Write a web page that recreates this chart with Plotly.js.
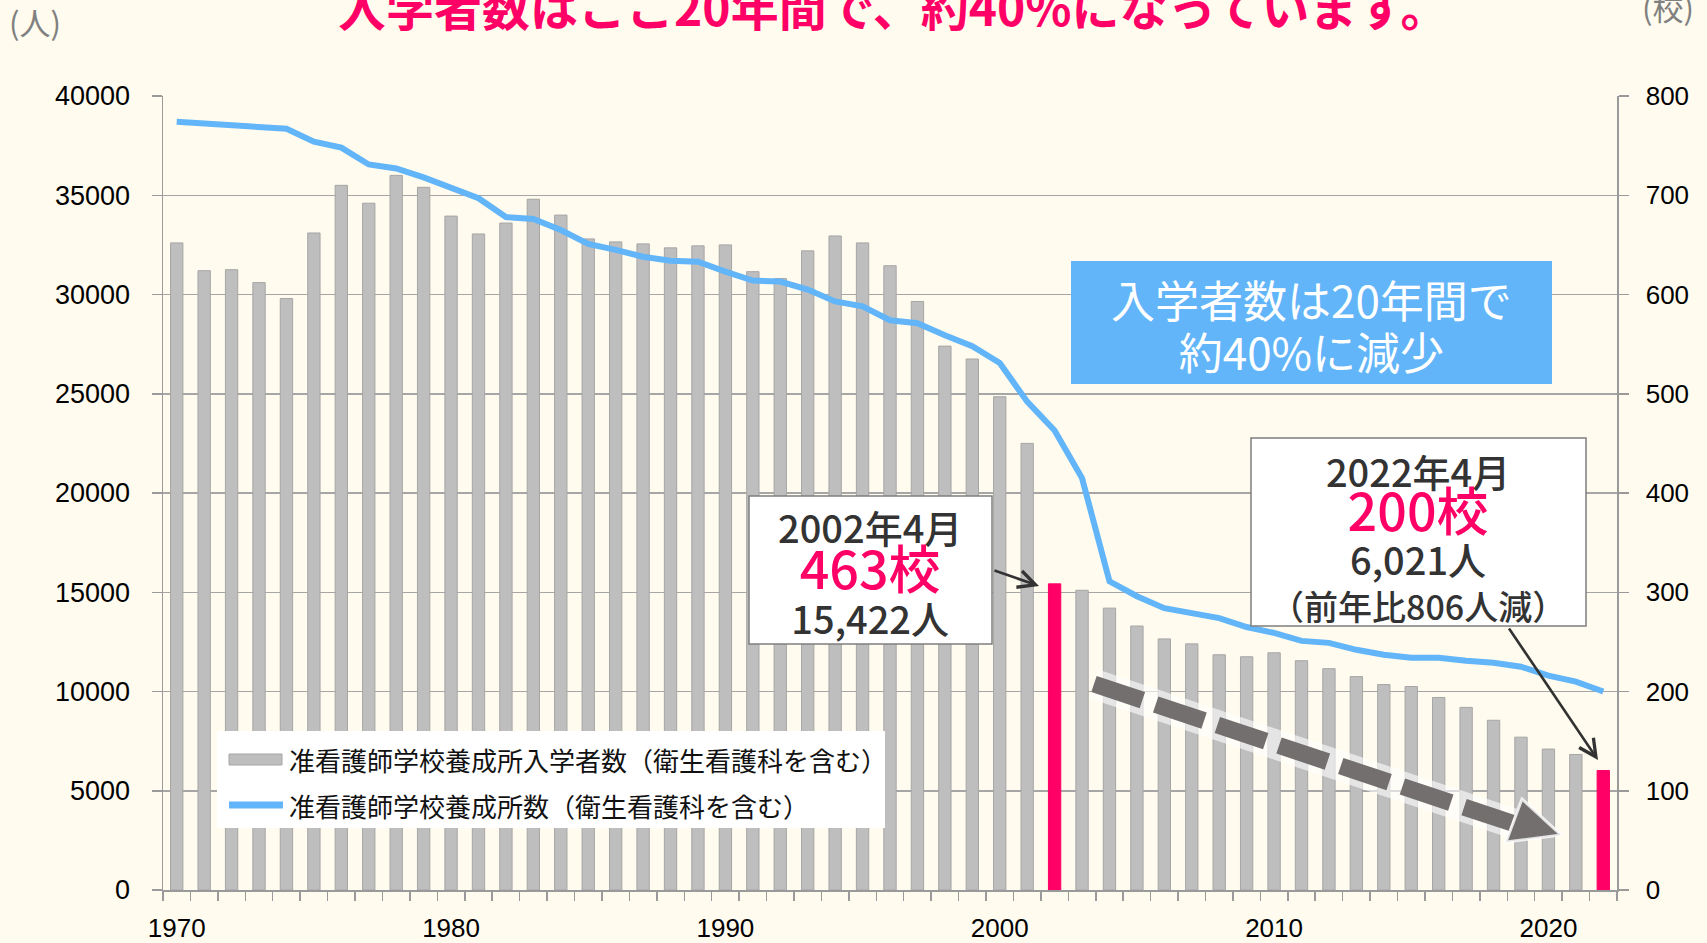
<!DOCTYPE html>
<html><head><meta charset="utf-8">
<script src="https://cdn.plot.ly/plotly-3.0.1.min.js"></script>
<style>html,body{margin:0;padding:0;background:#FFFBEE;}#chart{width:1707px;height:943px;}</style>
</head><body><div id="chart"></div>
<script>
// ---- data ----
const years = [1970,1971,1972,1973,1974,1975,1976,1977,1978,1979,
  1980,1981,1982,1983,1984,1985,1986,1987,1988,1989,
  1990,1991,1992,1993,1994,1995,1996,1997,1998,1999,
  2000,2001,2002,2003,2004,2005,2006,2007,2008,2009,
  2010,2011,2012,2013,2014,2015,2016,2017,2018,2019,
  2020,2021,2022];
const enrollment = [32600,31200,31250,30600,29800,33100,35500,34600,36000,35400,
  33950,33050,33600,34800,34000,32800,32650,32550,32350,32450,
  32500,31150,30800,32200,32950,32600,31450,29650,27400,26750,
  24850,22500,15422,15100,14200,13300,12650,12400,11850,11750,
  11950,11550,11150,10750,10350,10250,9700,9200,8550,7700,
  7100,6827,6021];
const schools = [774,772,771,769,767,754,748,731,727,718,
  707,697,678,676,665,651,645,638,634,633,
  623,614,613,605,593,588,574,571,559,548,
  531,492,463,415,311,296,284,279,274,265,
  259,251,249,242,237,234,234,231,229,225,
  216,210,200];
const highlightYears = [2002, 2022];
const yearTicks = [1970,1980,1990,2000,2010,2020];
const barName = '准看護師学校養成所入学者数（衛生看護科を含む）';
const lineName = '准看護師学校養成所数（衛生看護科を含む）';
const titleText = '入学者数はここ20年間で、約40%になっています。';
const boxMsg = ['入学者数は20年間で', '約40%に減少'];
const call1 = ['2002年4月', '463校', '15,422人'];
const call2 = ['2022年4月', '200校', '6,021人', '（前年比806人減）'];

// ---- geometry helpers ----
const W = 1707, H = 943, ML = 163, MR = 90, MT = 96, MB = 53;
const PW = W - ML - MR, PH = H - MT - MB;
const fx = p => (p - ML) / PW;
const fy = p => (H - MB - p) / PH;

const GRAY = '#BEBEBE', GRAYLINE = '#A6A6A6', PINK = '#FF0066', BLUE = '#62B5F8';
const JP = 'Noto Sans CJK JP, Noto Sans, sans-serif';
const NUM = 'Liberation Sans, Arial, sans-serif';
const TXT = '#333333';

const barColors = years.map(y => highlightYears.includes(y) ? PINK : GRAY);
const barLines = years.map(y => highlightYears.includes(y) ? PINK : GRAYLINE);

const traces = [
  {type: 'bar', x: years, y: enrollment, name: barName, showlegend: false,
   width: 0.45, marker: {color: barColors, line: {color: barLines, width: 1}}},
  {type: 'scatter', mode: 'lines', x: years, y: schools, name: lineName, showlegend: false,
   yaxis: 'y2', line: {color: BLUE, width: 6}}
];

function txt(t, xp, yp, size, color, extra) {
  const a = {text: t, x: fx(xp), y: fy(yp), xref: 'paper', yref: 'paper',
    xanchor: 'center', yanchor: 'middle', showarrow: false,
    font: {family: JP, size: size, color: color}};
  if (extra) {
    if (extra.font) { Object.assign(a.font, extra.font); }
    Object.keys(extra).forEach(k => { if (k !== 'font') a[k] = extra[k]; });
  }
  return a;
}
function arrow(tipX, tipY, tailX, tailY) {
  return {text: '', x: fx(tipX), y: fy(tipY), xref: 'paper', yref: 'paper',
    ax: tailX - tipX, ay: tailY - tipY, showarrow: true, arrowhead: 5,
    arrowsize: 1.3, arrowwidth: 2.6, arrowcolor: '#333333', standoff: 0, startstandoff: 0};
}
const sp = (t, size, color) => `<span style="font-size:${size}px;color:${color}">${t}</span>`;

const callText1 = [sp(call1[0], 38, TXT), sp(call1[1], 52, PINK), sp(call1[2], 38, TXT)].join('<br>');
const callText2 = [sp(call2[0], 38, TXT), sp(call2[1], 52, PINK), sp(call2[2], 38, TXT), sp(call2[3], 34, TXT)].join('<br>');
const boxText = [sp(boxMsg[0], 44, '#FFFFFF'), sp(boxMsg[1], 44, '#FFFFFF')].join('<br>');

const annotations = [
  txt(titleText, 893, 5, 48, PINK, {font: {weight: 'bold'}}),
  txt('(人)', 35, 22, 31, '#808080'),
  txt('(校)', 1668, 7, 31, '#808080'),
  txt(boxText, 1311, 325, 40, '#FFFFFF'),
  txt(callText1, 870, 572, 35, TXT, {font: {weight: 500}}),
  txt(callText2, 1418, 536, 34, TXT, {font: {weight: 500}}),
  txt(barName, 287, 759, 26, '#111111', {xanchor: 'left'}),
  txt(lineName, 287, 805, 26, '#111111', {xanchor: 'left'}),
  arrow(1039, 586, 993, 570),
  arrow(1598, 760, 1508, 627)
];

function rect(x0, y0, x1, y1, fill, lc, lw) {
  return {type: 'rect', xref: 'paper', yref: 'paper', layer: 'above',
    x0: fx(x0), x1: fx(x1), y0: fy(y0), y1: fy(y1), fillcolor: fill,
    line: {color: lc || fill, width: lw || 0}};
}
const dStart = [1094, 684], dEnd = [1512, 823];
const headPath = `M ${fx(1522)},${fy(799)} L ${fx(1506)},${fy(842)} L ${fx(1561)},${fy(835)} Z`;
const shapes = [
  // legend box and swatches
  rect(217, 731, 885, 828, '#FFFFFF'),
  rect(229, 754, 282, 765, GRAY, GRAYLINE, 1),
  {type: 'line', xref: 'paper', yref: 'paper', layer: 'above',
   x0: fx(229), x1: fx(283), y0: fy(805), y1: fy(805), line: {color: BLUE, width: 7}},
  // message box
  rect(1071, 261, 1552, 384, BLUE),
  // callouts
  rect(749, 496, 992, 644, '#FFFFFF', '#7F7F7F', 1.5),
  rect(1251, 438, 1586, 626, '#FFFFFF', '#7F7F7F', 1.5),
  // dashed trend arrow
  {type: 'line', xref: 'paper', yref: 'paper', layer: 'above',
   x0: fx(dStart[0]), y0: fy(dStart[1]), x1: fx(dEnd[0]), y1: fy(dEnd[1]),
   line: {color: 'rgba(255,255,255,0.6)', width: 30}},
  {type: 'line', xref: 'paper', yref: 'paper', layer: 'above',
   x0: fx(dStart[0]), y0: fy(dStart[1]), x1: fx(dEnd[0]), y1: fy(dEnd[1]),
   line: {color: '#736F6F', width: 17, dash: '51px,14px'}},
  {type: 'path', xref: 'paper', yref: 'paper', layer: 'above', path: headPath,
   fillcolor: '#736F6F', line: {color: 'rgba(255,255,255,0.8)', width: 3}}
];

const axisCommon = {
  showline: true, linecolor: '#9A9A9A', linewidth: 1.5, zeroline: false,
  ticks: 'outside', ticklen: 10, tickcolor: '#9A9A9A', tickwidth: 1.5,
  tickfont: {family: NUM, size: 26, color: '#000000'}, tickformat: 'd', fixedrange: true
};

const layout = {
  width: W, height: H,
  margin: {l: ML, r: MR, t: MT, b: MB, pad: 0},
  paper_bgcolor: '#FFFBEE', plot_bgcolor: '#FFFBEE',
  showlegend: false,
  xaxis: Object.assign({}, axisCommon, {
    range: [1969.5, 2022.5], tickvals: yearTicks, ticks: '', showgrid: false,
    ticklabelstandoff: 14,
    minor: {tick0: 1969.5, dtick: 1, ticks: 'outside', ticklen: 9, tickcolor: '#9A9A9A', tickwidth: 1.5, showgrid: false}
  }),
  yaxis: Object.assign({}, axisCommon, {
    range: [0, 40000], tick0: 0, dtick: 5000, showgrid: true,
    gridcolor: '#A6A6A6', gridwidth: 1.5, ticklabelstandoff: 16,
    tickfont: {family: NUM, size: 27, color: '#000000'}
  }),
  yaxis2: Object.assign({}, axisCommon, {
    range: [0, 800], tick0: 0, dtick: 100, overlaying: 'y', side: 'right',
    showgrid: false, ticklabelstandoff: 12
  }),
  annotations: annotations,
  shapes: shapes,
  hovermode: false
};

Plotly.newPlot('chart', traces, layout, {displayModeBar: false, staticPlot: true});
</script>
</body></html>
